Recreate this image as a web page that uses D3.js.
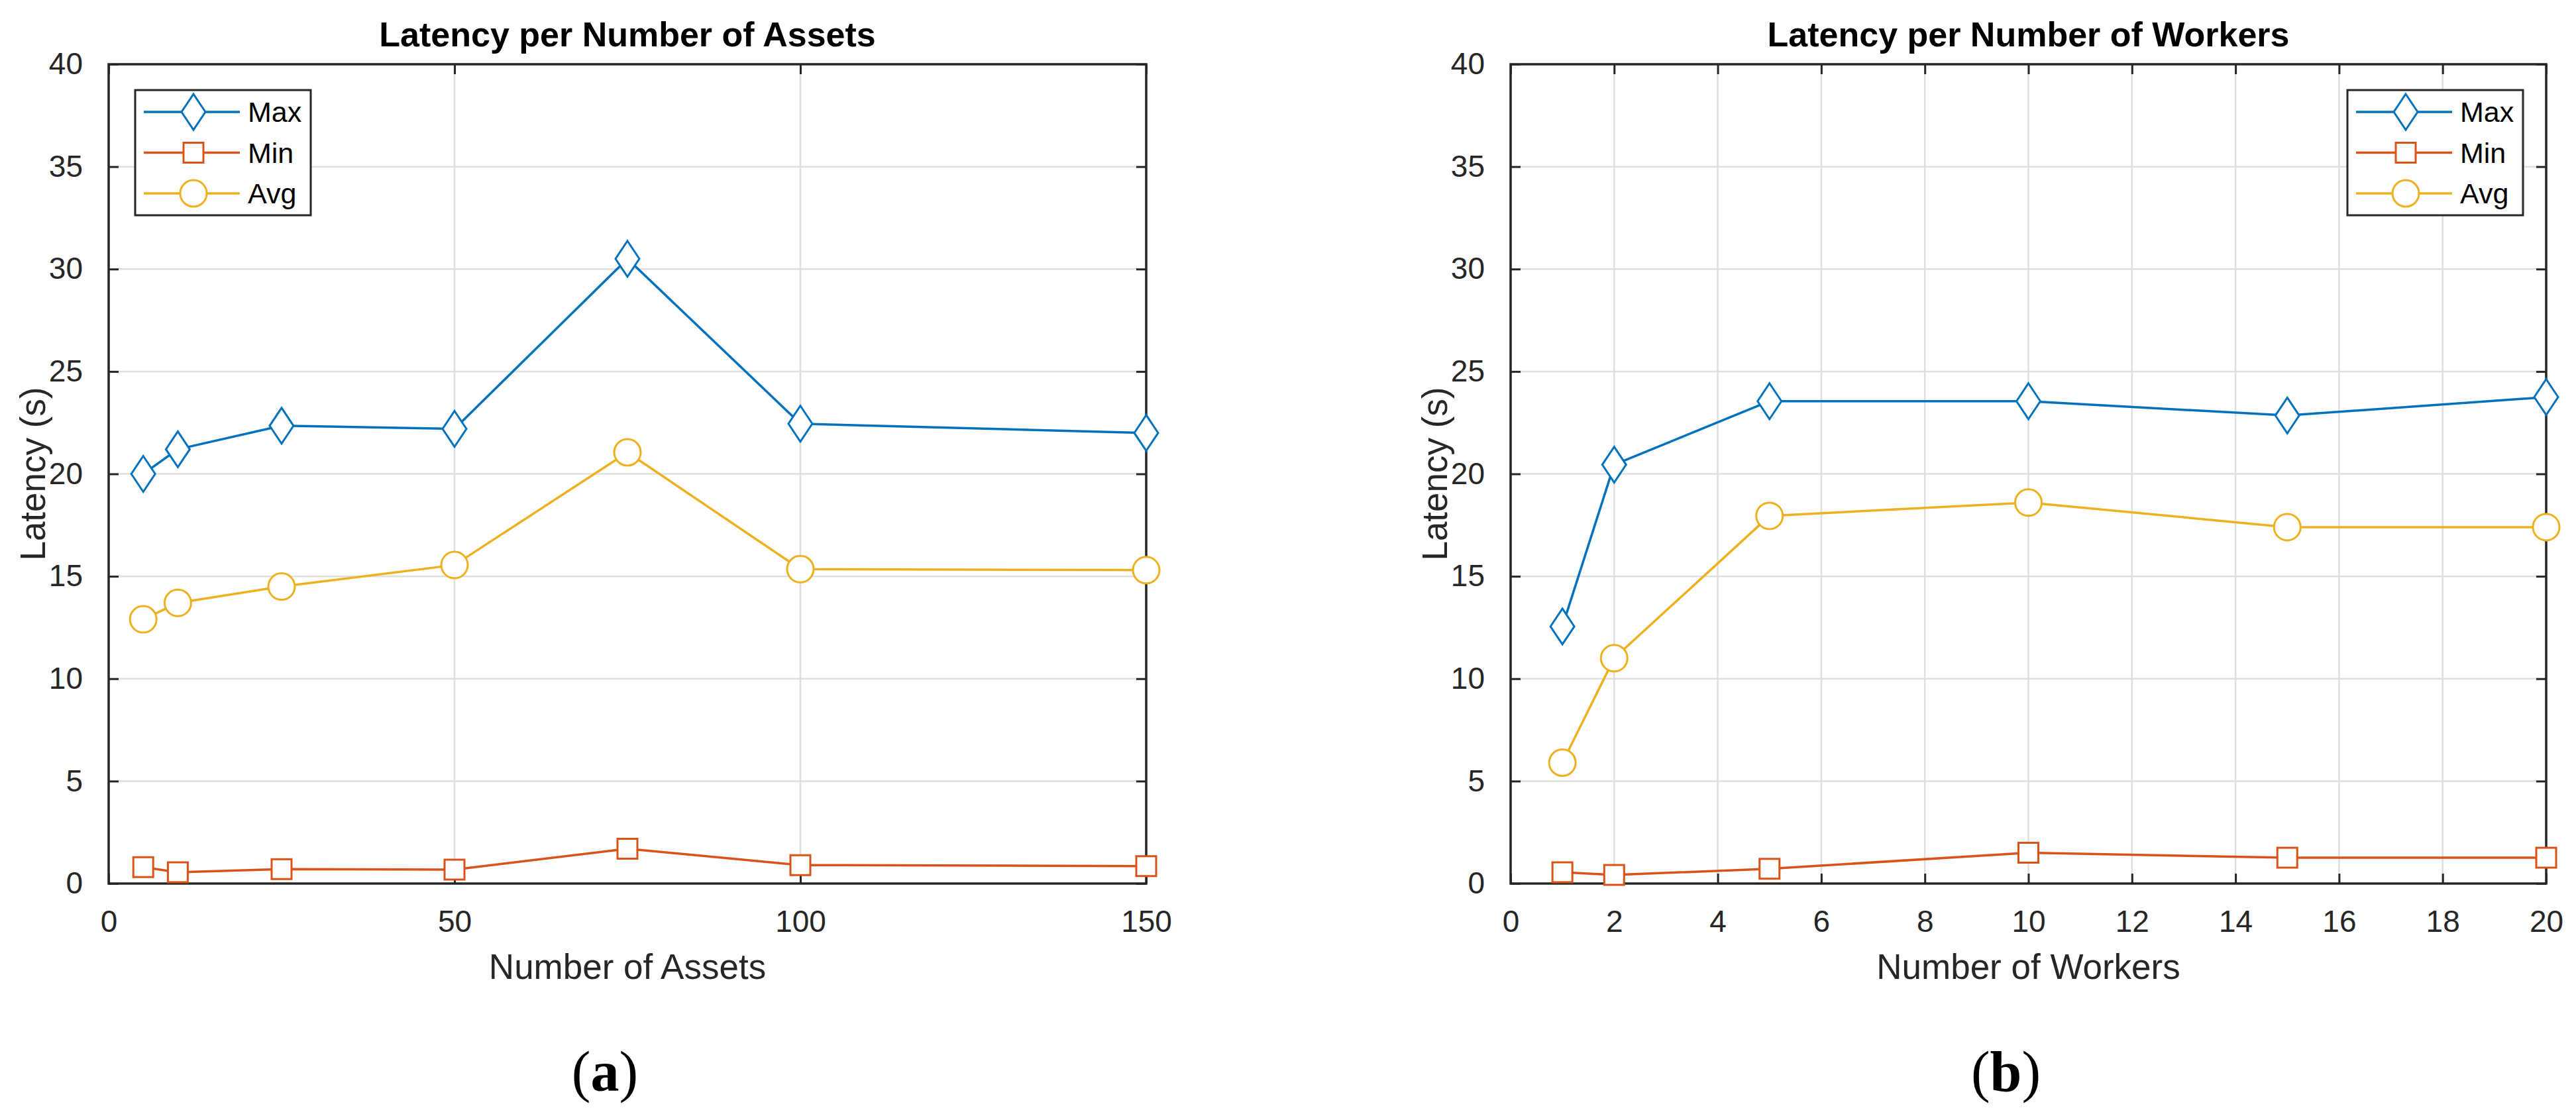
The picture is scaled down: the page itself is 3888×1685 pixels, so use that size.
<!DOCTYPE html>
<html>
<head>
<meta charset="utf-8">
<script src="https://cdn.jsdelivr.net/npm/d3@7"></script>
<style>
  html, body { margin: 0; padding: 0; background: #ffffff; }
  svg { display: block; }
</style>
</head>
<body>
<svg></svg>
<script>
// panel (a): latency per number of assets
const assets = [5, 10, 25, 50, 75, 100, 150];
const assetsMax = [20.0, 21.2, 22.35, 22.2, 30.5, 22.45, 22.0];
const assetsMin = [0.8, 0.55, 0.7, 0.68, 1.7, 0.9, 0.85];
const assetsAvg = [12.9, 13.7, 14.5, 15.55, 21.05, 15.35, 15.3];
const assetsTicks = [0, 50, 100, 150];

// panel (b): latency per number of workers
const workers = [1, 2, 5, 10, 15, 20];
const workersMax = [12.55, 20.45, 23.55, 23.55, 22.85, 23.75];
const workersMin = [0.55, 0.42, 0.72, 1.5, 1.26, 1.26];
const workersAvg = [5.9, 11.0, 17.95, 18.6, 17.4, 17.4];
const workersTicks = [0, 2, 4, 6, 8, 10, 12, 14, 16, 18, 20];

const latencyTicks = [0, 5, 10, 15, 20, 25, 30, 35, 40];
const seriesNames = ['Max', 'Min', 'Avg'];
const seriesColors = ['#0072BD', '#D95319', '#EDB120'];
const seriesMarkers = ['diamond', 'square', 'circle'];

const width = 3888;
const height = 1685;
const axisColor = '#262626';
const gridColor = '#dfdfdf';
const sans = '"Liberation Sans", Arial, Helvetica, sans-serif';

const svg = d3.select('svg')
  .attr('width', width)
  .attr('height', height)
  .style('font-family', sans);

function markerPath(type) {
  if (type === 'diamond') return 'M0,-27L18,0L0,27L-18,0Z';
  if (type === 'square') return 'M-15,-15H15V15H-15Z';
  const r = 20;
  return `M${-r},0A${r},${r} 0 1,0 ${r},0A${r},${r} 0 1,0 ${-r},0Z`;
}

function drawPanel(cfg) {
  const left = cfg.left;
  const right = cfg.right;
  const top = 97;
  const bottom = 1334;
  const w = right - left;
  const h = bottom - top;

  const x = d3.scaleLinear().domain(cfg.xDomain).range([0, w]);
  const y = d3.scaleLinear().domain([0, 40]).range([h, 0]);

  const g = svg.append('g').attr('transform', `translate(${left},${top})`);

  // grid
  g.append('g')
    .selectAll('line.gx')
    .data(cfg.xTicks)
    .enter()
    .append('line')
      .attr('x1', (d) => x(d)).attr('x2', (d) => x(d))
      .attr('y1', 0).attr('y2', h)
      .attr('stroke', gridColor)
      .attr('stroke-width', 2.5);

  g.append('g')
    .selectAll('line.gy')
    .data(latencyTicks)
    .enter()
    .append('line')
      .attr('x1', 0).attr('x2', w)
      .attr('y1', (d) => y(d)).attr('y2', (d) => y(d))
      .attr('stroke', gridColor)
      .attr('stroke-width', 2.5);

  // axes, ticks pointing inward on all four sides
  const styleAxis = (sel) => {
    sel.select('.domain').remove();
    sel.selectAll('.tick line')
      .attr('stroke', axisColor)
      .attr('stroke-width', 3);
    sel.selectAll('.tick text')
      .attr('fill', axisColor)
      .style('font-size', '46px')
      .style('font-family', sans);
  };

  g.append('g')
    .attr('transform', `translate(0,${h})`)
    .call(d3.axisBottom(x).tickValues(cfg.xTicks).tickSize(-15).tickPadding(40).tickFormat(d3.format('d')))
    .call(styleAxis)
    .selectAll('.tick text').attr('dy', '0.71em');

  g.append('g')
    .call(d3.axisTop(x).tickValues(cfg.xTicks).tickSize(-15).tickFormat(''))
    .call(styleAxis);

  g.append('g')
    .call(d3.axisLeft(y).tickValues(latencyTicks).tickSize(-15).tickPadding(39).tickFormat(d3.format('d')))
    .call(styleAxis);

  g.append('g')
    .attr('transform', `translate(${w},0)`)
    .call(d3.axisRight(y).tickValues(latencyTicks).tickSize(-15).tickFormat(''))
    .call(styleAxis);

  g.append('rect')
    .attr('x', 0).attr('y', 0)
    .attr('width', w).attr('height', h)
    .attr('fill', 'none')
    .attr('stroke', axisColor)
    .attr('stroke-width', 3.5);

  // series
  const line = d3.line()
    .x((d) => x(d[0]))
    .y((d) => y(d[1]));

  cfg.series.forEach((values, i) => {
    const pts = cfg.xValues.map((v, j) => [v, values[j]]);
    g.append('path')
      .datum(pts)
      .attr('fill', 'none')
      .attr('stroke', seriesColors[i])
      .attr('stroke-width', 3.5)
      .attr('stroke-linejoin', 'round')
      .attr('d', line);

    g.selectAll(null)
      .data(pts)
      .enter()
      .append('path')
        .attr('transform', (d) => `translate(${x(d[0])},${y(d[1])})`)
        .attr('d', markerPath(seriesMarkers[i]))
        .attr('fill', '#ffffff')
        .attr('stroke', seriesColors[i])
        .attr('stroke-width', 3);
  });

  // legend
  const lg = svg.append('g').attr('transform', `translate(${cfg.legendX},136)`);
  lg.append('rect')
    .attr('width', 265).attr('height', 189)
    .attr('fill', '#ffffff')
    .attr('stroke', axisColor)
    .attr('stroke-width', 3);

  seriesNames.forEach((name, i) => {
    const ly = 33 + i * 61.5;
    lg.append('line')
      .attr('x1', 13).attr('x2', 158)
      .attr('y1', ly).attr('y2', ly)
      .attr('stroke', seriesColors[i])
      .attr('stroke-width', 3.5);
    lg.append('path')
      .attr('transform', `translate(88,${ly})`)
      .attr('d', markerPath(seriesMarkers[i]))
      .attr('fill', '#ffffff')
      .attr('stroke', seriesColors[i])
      .attr('stroke-width', 3);
    lg.append('text')
      .attr('x', 170).attr('y', ly)
      .attr('dy', '0.36em')
      .style('font-size', '43px')
      .attr('fill', '#000000')
      .text(name);
  });

  // title and axis labels
  const cx = left + w / 2;
  svg.append('text')
    .attr('x', cx).attr('y', 70)
    .attr('text-anchor', 'middle')
    .style('font-size', '52px')
    .style('font-weight', 'bold')
    .attr('fill', '#000000')
    .text(cfg.title);

  svg.append('text')
    .attr('x', cx).attr('y', 1478)
    .attr('text-anchor', 'middle')
    .style('font-size', '53px')
    .attr('fill', axisColor)
    .text(cfg.xLabel);

  svg.append('text')
    .attr('transform', `translate(${left - 96},${top + h / 2}) rotate(-90)`)
    .attr('text-anchor', 'middle')
    .style('font-size', '53px')
    .attr('fill', axisColor)
    .text('Latency (s)');

  // caption
  const cap = svg.append('text')
    .attr('x', cx - 34).attr('y', 1647)
    .attr('text-anchor', 'middle')
    .style('font-family', '"Liberation Serif", "Times New Roman", serif')
    .style('font-size', '86px')
    .attr('fill', '#000000');
  cap.append('tspan').text('(');
  cap.append('tspan').style('font-weight', 'bold').text(cfg.caption);
  cap.append('tspan').text(')');
}

drawPanel({
  left: 164,
  right: 1730,
  xDomain: [0, 150],
  xTicks: assetsTicks,
  xValues: assets,
  series: [assetsMax, assetsMin, assetsAvg],
  legendX: 204,
  title: 'Latency per Number of Assets',
  xLabel: 'Number of Assets',
  caption: 'a',
});

drawPanel({
  left: 2280,
  right: 3843,
  xDomain: [0, 20],
  xTicks: workersTicks,
  xValues: workers,
  series: [workersMax, workersMin, workersAvg],
  legendX: 3543,
  title: 'Latency per Number of Workers',
  xLabel: 'Number of Workers',
  caption: 'b',
});
</script>
</body>
</html>
